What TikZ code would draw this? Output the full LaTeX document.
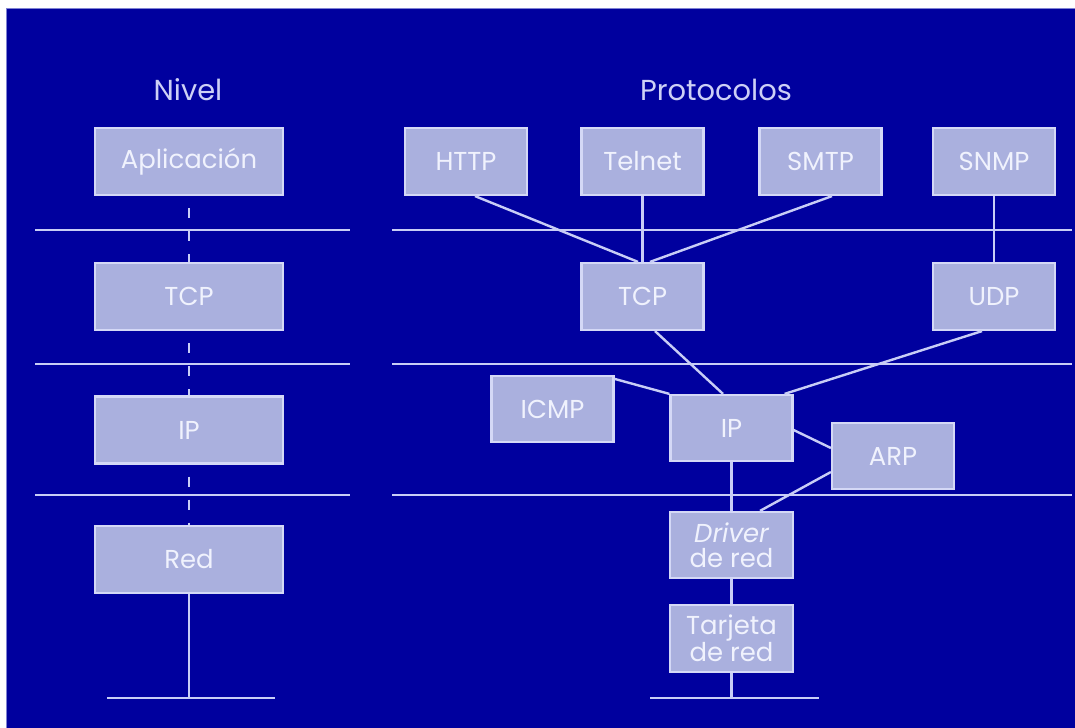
\documentclass[tikz,border=0pt]{standalone}
\usepackage{fontspec}
\setmainfont{Poppins}
\definecolor{bg}{RGB}{0,0,158}
\definecolor{boxfill}{RGB}{170,176,222}
\definecolor{boxedge}{RGB}{212,216,246}
\definecolor{wirec}{RGB}{200,205,246}
\definecolor{txt}{RGB}{240,242,253}
\definecolor{head}{RGB}{205,208,246}
\begin{document}
\begin{tikzpicture}[x=1bp,y=-1bp,
  layerbox/.style={draw=boxedge, line width=2.2bp, fill=boxfill, text=txt, inner sep=0pt,
    minimum width=122bp, minimum height=67bp, font=\fontsize{26}{25}\selectfont, align=center},
  levelbox/.style={layerbox, minimum width=188bp},
  wire/.style={draw=wirec, line width=2.4bp},
  dashwire/.style={wire, dash pattern=on 10bp off 13bp, dash phase=11bp},
  sepline/.style={draw=wirec, line width=2.8bp},
  heading/.style={text=head, font=\fontsize{29}{32}\selectfont}]
\useasboundingbox (0,0) rectangle (1075,728);
\fill[white] (0,0) rectangle (1075,728);
\fill[bg] (6,8) rectangle (1075,728);
\draw[line width=0.8bp, draw=boxedge!60!bg] (6.4,728) -- (6.4,8.4) -- (1075,8.4);

% headings
\node[heading] (nivel) at (188,90) {Nivel};
\node[heading] (protocolos) at (716,90) {Protocolos};

% separator lines
\coordinate (l1a) at (35,230);  \coordinate (l1b) at (350,230);
\coordinate (l2a) at (35,364);  \coordinate (l2b) at (350,364);
\coordinate (l3a) at (35,495);  \coordinate (l3b) at (350,495);
\coordinate (r1a) at (392,230); \coordinate (r1b) at (1072,230);
\coordinate (r2a) at (392,364); \coordinate (r2b) at (1072,364);
\coordinate (r3a) at (392,495); \coordinate (r3b) at (1072,495);
\draw[sepline] (l1a) -- (l1b);
\draw[sepline] (l2a) -- (l2b);
\draw[sepline] (l3a) -- (l3b);
\draw[sepline] (r1a) -- (r1b);
\draw[sepline] (r2a) -- (r2b);
\draw[sepline] (r3a) -- (r3b);

% left column
\node[levelbox] (aplic) at (189,161.5) {Aplicación};
\node[levelbox] (tcpL) at (189,296.5) {TCP};
\node[levelbox] (ipL) at (189,430) {IP};
\node[levelbox] (red) at (189,559.5) {Red};
\coordinate (redend) at (189,698);
\coordinate (redbl) at (107,698);
\coordinate (redbr) at (275,698);

\draw[dashwire] (aplic.south) -- (tcpL.north);
\draw[dashwire] (tcpL.south) -- (ipL.north);
\draw[dashwire] (ipL.south) -- (red.north);
\draw[wire] (red.south) -- (redend);
\draw[sepline] (redbl) -- (redbr);

% right column
\node[layerbox] (http) at (466,161.5) {HTTP};
\node[layerbox] (telnet) at (642.5,161.5) {Telnet};
\node[layerbox] (smtp) at (820.5,161.5) {SMTP};
\node[layerbox] (snmp) at (994,161.5) {SNMP};
\node[layerbox] (tcpR) at (642.5,296.5) {TCP};
\node[layerbox] (udp) at (994,296.5) {UDP};
\node[layerbox, minimum height=66bp] (icmp) at (552.5,409) {ICMP};
\node[layerbox, minimum height=66bp] (ip) at (731.5,428) {IP};
\node[layerbox, minimum height=66bp] (arp) at (893,456) {ARP};
\node[layerbox, minimum width=123bp, minimum height=66bp] (driver) at (731.5,545) {\itshape Driver\\de red};
\node[layerbox, minimum width=123bp] (tarjeta) at (731.5,638.5) {Tarjeta\\de red};
\coordinate (tarend) at (731.5,698);
\coordinate (tarbl) at (650,698);
\coordinate (tarbr) at (819,698);

\draw[wire] ([xshift=9bp]http.south) -- ([xshift=-4.5bp]tcpR.north);
\draw[wire] (telnet.south) -- (tcpR.north);
\draw[wire] ([xshift=11.5bp]smtp.south) -- ([xshift=7.5bp]tcpR.north);
\draw[wire] (snmp.south) -- (udp.north);
\draw[wire] ([xshift=12.5bp]tcpR.south) -- ([xshift=-8.5bp]ip.north);
\draw[wire] ([xshift=-12bp]udp.south) -- ([xshift=-9bp]ip.north east);
\draw[wire] ([yshift=-4bp]icmp.north east) -- (ip.north west);
\draw[wire] ([yshift=-2bp]ip.east) -- ([yshift=8bp]arp.west);
\draw[wire] ([yshift=-16bp]arp.west) -- ([xshift=28.5bp]driver.north);
\draw[wire] (ip.south) -- (driver.north);
\draw[wire] (driver.south) -- (tarjeta.north);
\draw[wire] (tarjeta.south) -- (tarend);
\draw[sepline] (tarbl) -- (tarbr);
\end{tikzpicture}
\end{document}
